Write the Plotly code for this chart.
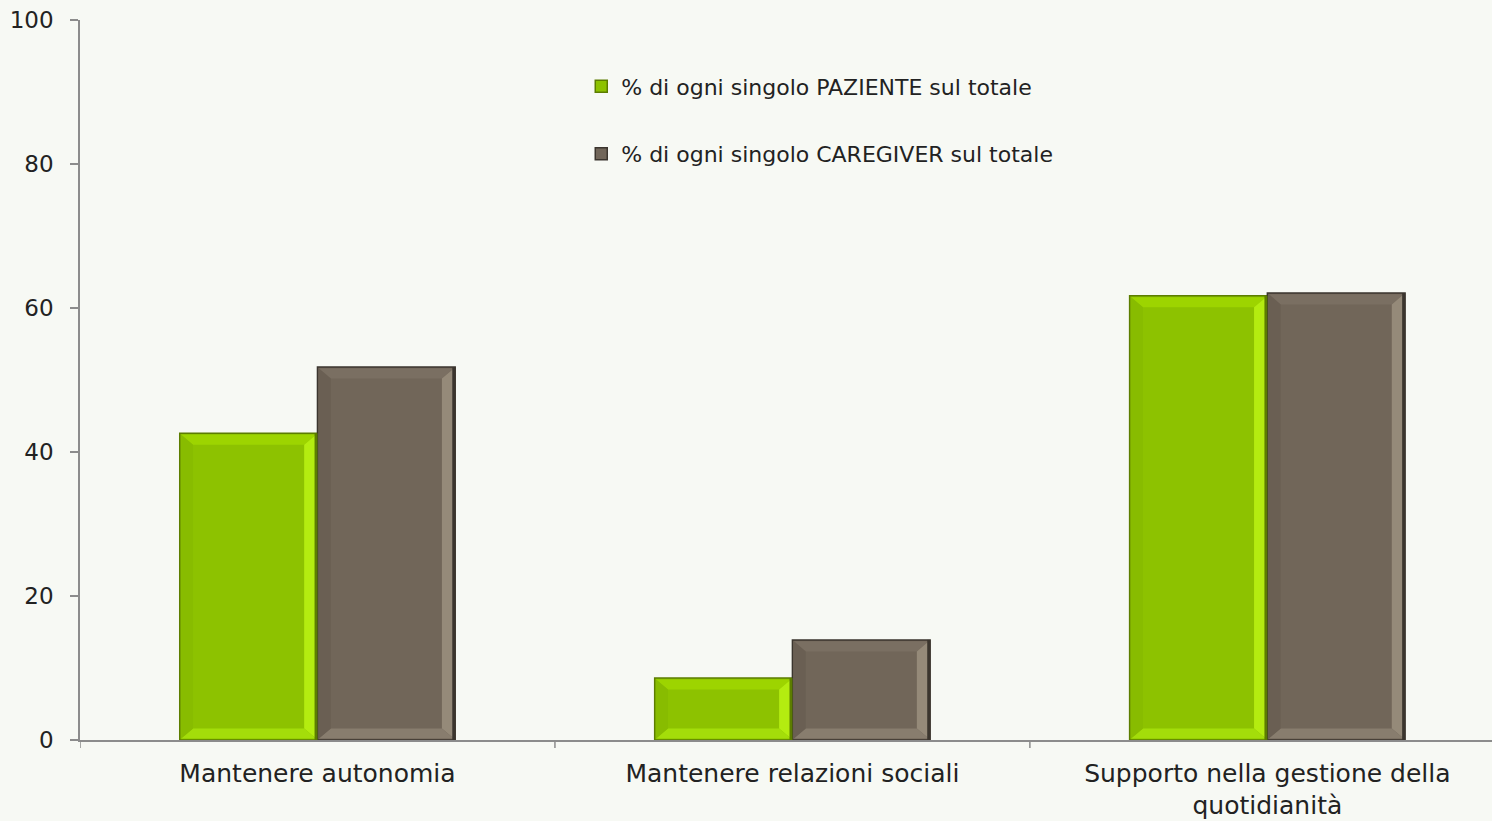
import plotly.graph_objects as go

categories = ["Mantenere autonomia", "Mantenere relazioni sociali",
              "Supporto nella gestione della<br>quotidianità"]
pazienti = [42.6, 8.6, 61.7]
caregiver = [51.8, 13.9, 62.1]
series_names = ["% di ogni singolo PAZIENTE sul totale",
                "% di ogni singolo CAREGIVER sul totale"]
y_ticks = [0, 20, 40, 60, 80, 100]

FONT = "DejaVu Sans"
BG = "#f7f9f4"
BAR_W = 0.29

styles = [
    dict(body="#8dc200", line="#5c7d00", top="#9dd400", right="#b4ec10",
         bottom="#a4dd0a", left="#88bc00"),
    dict(body="#716659", line="#3b352e", top="#7a6f62", right="#958a79",
         bottom="#887d6e", left="#6a5f53"),
]

fig = go.Figure()
offsets = [-BAR_W, 0.0]
xs = list(range(len(categories)))
for i, (name, vals) in enumerate(zip(series_names, [pazienti, caregiver])):
    st = styles[i]
    fig.add_trace(go.Bar(
        x=xs, y=vals, name=name, width=BAR_W, offset=offsets[i],
        marker=dict(color=st["body"], line=dict(color=st["line"], width=1.5)),
        legendgroup=f"g{i}", hoverinfo="skip",
    ))

# bevelled edges on each bar
dx, dy = 0.025, 1.4
shapes = []
for i, vals in enumerate([pazienti, caregiver]):
    st = styles[i]
    for xc, v in zip(xs, vals):
        x0 = xc + offsets[i] + 0.003
        x1 = x0 + BAR_W - 0.006
        v0 = 0.2
        v1 = v - 0.2
        polys = {
            "top": [(x0, v1), (x1, v1), (x1 - dx, v1 - dy), (x0 + dx, v1 - dy)],
            "right": [(x1, v1), (x1, v0), (x1 - dx, v0 + dy), (x1 - dx, v1 - dy)],
            "bottom": [(x0, v0), (x1, v0), (x1 - dx, v0 + dy), (x0 + dx, v0 + dy)],
            "left": [(x0, v0), (x0, v1), (x0 + dx, v1 - dy), (x0 + dx, v0 + dy)],
        }
        for side, pts in polys.items():
            path = "M " + " L ".join(f"{px},{py}" for px, py in pts) + " Z"
            shapes.append(dict(type="path", path=path, xref="x", yref="y",
                               fillcolor=st[side], line=dict(width=0),
                               layer="above"))
        # dark shadow along the right edge
        shapes.append(dict(type="line", xref="x", yref="y",
                           x0=x1, x1=x1, y0=0, y1=v,
                           line=dict(color=st["line"], width=3)))

fig.update_layout(
    width=1492, height=821,
    margin=dict(l=80, r=0, t=20, b=81),
    paper_bgcolor=BG, plot_bgcolor=BG,
    font=dict(family=FONT, size=22, color="#222222"),
    barmode="overlay",
    showlegend=True,
    legend=dict(x=0.355, y=0.937, xanchor="left", yanchor="top",
                bgcolor="rgba(0,0,0,0)", font=dict(size=22, family=FONT),
                tracegroupgap=36, itemwidth=30),
    shapes=shapes,
    xaxis=dict(
        range=[-0.5, 2.473], tickmode="array", tickvals=xs, ticktext=categories,
        showgrid=False, zeroline=False, showline=True, linecolor="#8c8c8c",
        linewidth=1.5, ticks="", tickfont=dict(size=25, family=FONT),
        ticklabelstandoff=10,
    ),
    yaxis=dict(
        range=[0, 100], tickvals=y_ticks, showgrid=False, zeroline=False,
        showline=True, linecolor="#8c8c8c", linewidth=1.5,
        ticks="outside", ticklen=8, tickcolor="#8c8c8c", tickwidth=1.5,
        tickfont=dict(size=23, family=FONT), ticklabelstandoff=12,
    ),
)

# category separator ticks on the x axis
for b in [-0.5, 0.5, 1.5]:
    fig.add_shape(type="line", xref="x", yref="paper", x0=b, x1=b, y0=0, y1=-0.011,
                  line=dict(color="#8c8c8c", width=1.5))

fig.write_html("out.html")
